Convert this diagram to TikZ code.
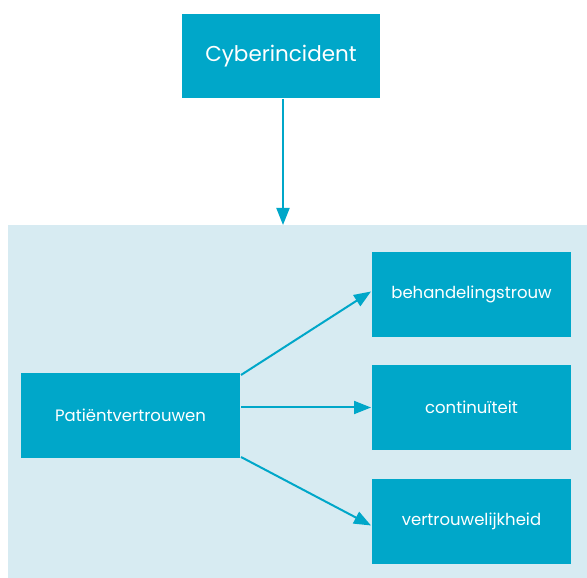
\documentclass[tikz,border=0pt]{standalone}
\usepackage{fontspec}
\setmainfont{Poppins}
\usetikzlibrary{arrows.meta}
\definecolor{teal}{HTML}{00A7C9}
\definecolor{pale}{HTML}{D7EBF2}

\begin{document}
\begin{tikzpicture}[x=1pt,y=1pt,line width=2pt,
  box/.style={rectangle,fill=teal,text=white,minimum height=85pt,inner sep=0pt},
  smallbox/.style={box,minimum width=199pt,font=\fontsize{16.5}{19}\selectfont},
  link/.style={draw=teal,-{Triangle[width=13pt,length=17pt]}}]
  \useasboundingbox (0,0) rectangle (587,578);
  \fill[pale] (8,0) rectangle (587,353);
  \path
  (281,522) node[box,minimum width=198pt,minimum height=84pt,font=\fontsize{21.5}{25}\selectfont] (cyber) {Cyberincident}
  (130.5,162.5) node[box,minimum width=219pt,font=\fontsize{16.5}{19}\selectfont] (pv) {Patiëntvertrouwen}
  (471.5,283.5) node[smallbox] (bt) {behandelingstrouw}
  (471.5,170.5) node[smallbox] (ci) {continuïteit}
  (471.5,56.5) node[smallbox] (vw) {vertrouwelijkheid}
  (283,353) coordinate (paneltop)
  ;
  \draw[link] (cyber.south -| paneltop) -- (paneltop);
  \draw[link] ([yshift=-3pt]pv.north east) -- ([yshift=3pt]bt.west);
  \draw[link] (pv.east |- ci.west) -- (ci.west);
  \draw[link] ([yshift=2pt]pv.south east) -- ([yshift=-4pt]vw.west);
\end{tikzpicture}
\end{document}
